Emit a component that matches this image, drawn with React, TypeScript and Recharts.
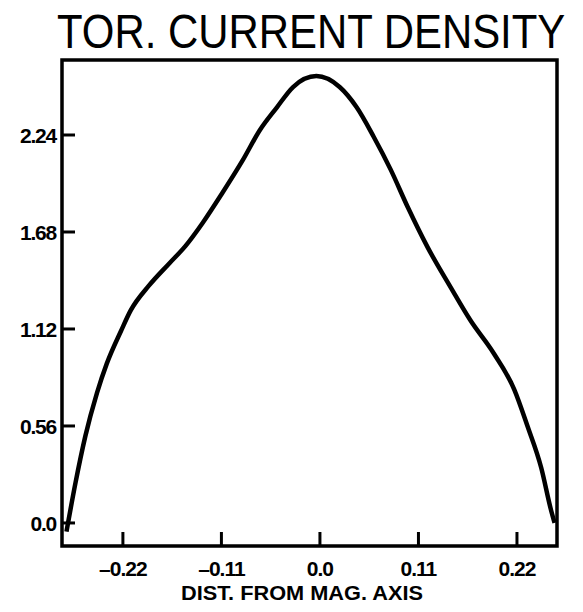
import React from 'react';
import { LineChart, Line, XAxis, YAxis, ReferenceArea } from 'recharts';

// distance from magnetic axis (x) and toroidal current density (y)
const distance = [
  -0.283, -0.273, -0.262, -0.249, -0.238, -0.222, -0.211, -0.191, -0.168, -0.15, -0.131,
  -0.109, -0.086, -0.067, -0.048, -0.03, -0.004, 0.022, 0.041, 0.06,
  0.079, 0.098, 0.12, 0.146, 0.168, 0.194, 0.217, 0.232, 0.247, 0.258, 0.262,
];
const density = [
  -0.05, 0.23, 0.5, 0.75, 0.92, 1.11, 1.23, 1.37, 1.5, 1.6, 1.732,
  1.905, 2.096, 2.269, 2.4, 2.517, 2.58, 2.517, 2.4, 2.23,
  2.04, 1.824, 1.594, 1.36, 1.17, 0.98, 0.77, 0.555, 0.32, 0.075, 0.0,
];

const xTicks = [-0.22, -0.11, 0, 0.11, 0.22];
const xTickLabels = ['\u20130.22', '\u20130.11', '0.0', '0.11', '0.22'];
const yTicks = [0, 0.56, 1.12, 1.68, 2.24];
const yTickLabels = ['0.0', '0.56', '1.12', '1.68', '2.24'];

const X_DOMAIN: [number, number] = [-0.288, 0.2647];
const Y_DOMAIN: [number, number] = [-0.133, 2.673];

const data = distance.map((x, i) => ({ x, y: density[i] }));

const labelFont = '"Liberation Sans", Arial, sans-serif';

const YTick = (props: any) => {
  const { x, y, payload } = props;
  const i = yTicks.indexOf(payload.value);
  const axisX = x + 6;
  return (
    <g>
      <line x1={axisX} y1={y} x2={axisX + 13} y2={y} stroke="#000" strokeWidth={3} />
      <text
        x={x}
        y={y}
        dy="0.36em"
        textAnchor="end"
        fontFamily={labelFont}
        fontWeight="bold"
        fontSize={21}
        letterSpacing={-1.2}
        fill="#000"
      >
        {yTickLabels[i]}
      </text>
    </g>
  );
};

const XTick = (props: any) => {
  const { x, y, payload } = props;
  const i = xTicks.indexOf(payload.value);
  return (
    <g>
      <line x1={x} y1={y} x2={x} y2={y - 14} stroke="#000" strokeWidth={3} />
      <text
        x={x}
        y={y + 30}
        textAnchor="middle"
        fontFamily={labelFont}
        fontWeight="bold"
        fontSize={21}
        letterSpacing={-1}
        fill="#000"
      >
        {xTickLabels[i]}
      </text>
    </g>
  );
};

export default function App() {
  return (
    <div style={{ position: 'absolute', left: 0, top: 0, width: 583, height: 612, background: '#fff' }}>
      <svg width={583} height={612} style={{ position: 'absolute', left: 0, top: 0 }}>
        <g transform="translate(57 48) scale(0.85 1)">
          <text
            x={0}
            y={0}
            textLength={598}
            lengthAdjust="spacingAndGlyphs"
            fontFamily={labelFont}
            fontSize={49}
            fill="#000"
          >
            TOR. CURRENT DENSITY
          </text>
        </g>
        <text
          x={181}
          y={600}
          textLength={242}
          lengthAdjust="spacingAndGlyphs"
          fontFamily={labelFont}
          fontWeight="bold"
          fontSize={21}
          fill="#000"
        >
          DIST. FROM MAG. AXIS
        </text>
      </svg>
      <div style={{ position: 'absolute', left: 0, top: 0 }}>
        <LineChart width={583} height={612} data={data} margin={{ top: 60, right: 26, bottom: 26, left: 0 }}>
          <XAxis
            dataKey="x"
            type="number"
            domain={X_DOMAIN}
            ticks={xTicks}
            allowDataOverflow
            height={40}
            tickSize={0}
            tickMargin={0}
            axisLine={false}
            tickLine={false}
            tick={<XTick />}
            interval={0}
          />
          <YAxis
            dataKey="y"
            type="number"
            domain={Y_DOMAIN}
            ticks={yTicks}
            allowDataOverflow
            width={62}
            tickSize={0}
            tickMargin={6}
            axisLine={false}
            tickLine={false}
            tick={<YTick />}
            interval={0}
          />
          <ReferenceArea
            x1={X_DOMAIN[0]}
            x2={X_DOMAIN[1]}
            y1={Y_DOMAIN[0]}
            y2={Y_DOMAIN[1]}
            fill="none"
            fillOpacity={0}
            stroke="#000"
            strokeWidth={3.5}
            ifOverflow="visible"
          />
          <Line
            type="monotone"
            dataKey="y"
            stroke="#000"
            strokeWidth={4.5}
            dot={false}
            isAnimationActive={false}
          />
        </LineChart>
      </div>
    </div>
  );
}
